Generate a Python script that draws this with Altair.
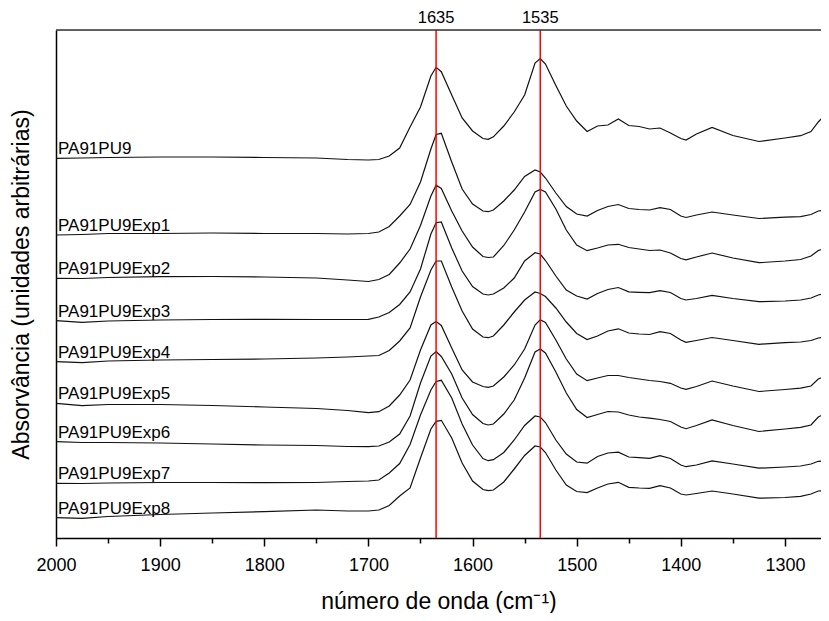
import altair as alt
import pandas as pd

# wavenumber grid (cm-1)
wavenumber = [2000, 1975, 1950, 1900, 1850, 1800, 1750, 1720, 1700, 1690,
              1680, 1670, 1660, 1650, 1640, 1635, 1630, 1620, 1610, 1600,
              1590, 1585, 1580, 1570, 1560, 1550, 1540, 1535, 1530, 1520,
              1510, 1500, 1490, 1480, 1470, 1460, 1450, 1440, 1430, 1420,
              1410, 1400, 1395, 1385, 1370, 1350, 1325, 1300, 1285, 1275,
              1268, 1262, 1255]

# absorbance (arbitrary units, stacked)
pa91pu9 = [379.7, 380, 380.5, 381, 381, 380.5, 380, 378.5, 378, 378.5,
           382, 390, 411, 431, 462, 470.7, 466.3, 443, 420, 407,
           399.5, 398.7, 401.2, 412, 426, 443, 475, 479.5, 474, 452.5,
           432, 417, 406.5, 412, 413, 419, 412.5, 411.5, 409, 410,
           405, 399.5, 398, 404, 410.5, 402.5, 396.5, 400, 402.3, 406.5,
           416, 422.5, 419.5]
exp1 = [303, 303.5, 304.5, 304.5, 305, 304.5, 304.5, 304, 304.5, 306,
        311.5, 322, 333.5, 356, 389, 403.5, 404.7, 376, 349, 334,
        327, 326.3, 328, 337, 348, 361.5, 368, 366, 360, 345,
        331.5, 324, 322, 327.5, 331.5, 333.5, 329.5, 328.5, 328, 330.3,
        328.5, 322, 320.5, 323, 326, 323, 319.5, 320.8, 321.3, 323.5,
        327, 328, 327.3]
exp2 = [259.7, 259.5, 260.5, 261.3, 261.5, 261, 260, 258, 256.5, 258.5,
        263.5, 275, 289, 312.5, 342, 352.8, 349.5, 327, 307, 291,
        281.5, 280.5, 281, 292.5, 308, 326, 346, 348.5, 346, 329,
        308, 293, 287.3, 290, 293, 293.7, 290.5, 289, 287.5, 288,
        285, 279.5, 278.2, 281, 285, 280, 275.3, 277, 278.5, 282,
        287.5, 289.7, 290]
exp3 = [217.3, 215.7, 217, 218, 218.5, 218.7, 218.5, 218.5, 218.7, 221,
        225.5, 233.5, 246, 269, 304, 315.3, 316, 290, 267, 251.5,
        244, 243, 244, 250, 260, 277, 285.3, 284, 277.5, 262,
        248, 242, 239, 244.5, 248.5, 250.5, 246.2, 245.7, 245.3, 247.3,
        245.5, 239.5, 238, 239.5, 242.7, 239.5, 236.3, 237, 238, 240,
        243, 244.5, 244.7]
exp4 = [176.3, 175.3, 177, 178, 178.5, 179, 180, 181, 182, 182.5,
        187.5, 197, 210, 241, 268, 277, 277, 251, 227, 209,
        201, 200.3, 202, 213, 226, 238, 246, 244.5, 241.5, 230,
        216, 204.5, 198.5, 202, 207, 209.2, 205, 204, 203.5, 206.3,
        204.5, 198, 195.7, 197.5, 200.5, 197.5, 193.7, 195.4, 196, 197.5,
        200, 200.7, 200.7]
exp5 = [134.7, 132.3, 133.5, 133.5, 132.5, 131, 129.5, 127.5, 125.3, 126.3,
        132, 143, 158, 188, 213, 216.5, 212.5, 190, 168, 156,
        151.5, 150.7, 152, 161, 173, 189, 213, 218.2, 215.5, 198,
        179, 164, 157.3, 160, 162.5, 162.5, 160.5, 159, 157.5, 156.5,
        154.7, 150, 148.7, 151.5, 157, 152, 146.5, 148.5, 149.8, 152,
        159, 161.5, 162.3]
exp6 = [96.3, 95.5, 95.5, 95, 94, 93, 92.5, 91.5, 91.3, 92,
        96, 104, 122, 155, 182, 186.5, 181.5, 164, 140, 123.5,
        114.5, 113, 114, 124, 138, 160, 186, 189, 185, 166,
        145, 128.5, 120.5, 123.5, 126.5, 126, 123, 121, 119.8, 118.5,
        116.5, 111, 109.3, 112.5, 118, 112.5, 106.5, 109, 110.7, 113,
        121, 124, 124.7]
exp7 = [54.7, 54.5, 55, 55.5, 55.5, 55.3, 55.5, 56.5, 57, 58,
        65, 74.5, 93.5, 123, 148, 156.5, 157.7, 140, 114, 93,
        79.5, 77.3, 78.3, 85.5, 98, 112.5, 122, 121, 115.5, 98,
        84, 76, 74.8, 81.5, 85, 85.8, 81, 80.3, 79.7, 82.3,
        79.5, 73, 71.3, 73, 77.2, 74, 69.8, 71, 72, 74,
        76.7, 77.3, 77.3]
exp8 = [20.3, 19.7, 21.5, 23.5, 25, 26.3, 28, 27, 27, 28,
        32.5, 42, 50, 80, 109, 116.7, 117.7, 100, 75, 57,
        48.5, 47.3, 48, 56, 69, 82.5, 92, 91, 85.5, 68,
        53, 46.5, 45.4, 50, 54, 55.7, 50.6, 50, 49.7, 52.3,
        50, 44, 43, 44.5, 47, 44, 39.8, 40.5, 41.7, 44,
        47, 47.3, 47.3]

sample_names = ["PA91PU9", "PA91PU9Exp1", "PA91PU9Exp2", "PA91PU9Exp3",
                "PA91PU9Exp4", "PA91PU9Exp5", "PA91PU9Exp6", "PA91PU9Exp7",
                "PA91PU9Exp8"]
spectra = [pa91pu9, exp1, exp2, exp3, exp4, exp5, exp6, exp7, exp8]

peak_positions = [1635, 1535]
peak_labels = ["1635", "1535"]

x_domain = [1265.4, 2000]
y_domain = [0, 508]
tick_values = list(range(2000, 1299, -50))

rows = []
for name, vals in zip(sample_names, spectra):
    for wn, v in zip(wavenumber, vals):
        rows.append({"wn": wn, "absorb": v, "amostra": name})
df = pd.DataFrame(rows)

labels_df = pd.DataFrame({"amostra": sample_names,
                          "absorb": [s[0] for s in spectra]})
peaks_df = pd.DataFrame({"wn": peak_positions, "label": peak_labels})
frame_df = pd.DataFrame({"top": [y_domain[1]]})

FONT = "Liberation Sans"

x_scale = alt.Scale(domain=x_domain, reverse=True, nice=False, zero=False)
y_scale = alt.Scale(domain=y_domain, nice=False, zero=False)

x_axis = alt.Axis(
    title="número de onda (cm⁻¹)",
    values=tick_values,
    format="d",
    labelExpr="datum.value % 100 === 0 ? datum.label : ''",
    tickSize={"condition": {"test": "datum.value % 100 === 0", "value": 8}, "value": 5},
    tickColor="black", tickWidth=1.5,
    domainColor="black", domainWidth=1.5,
    labelFont=FONT, labelFontSize=18, labelColor="black",
    labelPadding=10, labelFlush=False, labelOverlap=False,
    titleFont=FONT, titleFontSize=23, titleFontWeight="normal",
    titleColor="black", titlePadding=16, grid=False,
)
y_axis = alt.Axis(
    title="Absorvância (unidades arbitrárias)",
    labels=False, ticks=False, grid=False,
    domainColor="black", domainWidth=1.5,
    titleFont=FONT, titleFontSize=23, titleFontWeight="normal",
    titleColor="black", titlePadding=23,
)

lines = alt.Chart(df).mark_line(color="#111111", strokeWidth=1.2, clip=True).encode(
    x=alt.X("wn:Q", scale=x_scale, axis=x_axis),
    y=alt.Y("absorb:Q", scale=y_scale, axis=y_axis),
    detail="amostra:N",
)

peak_rules = alt.Chart(peaks_df).mark_rule(color="#ff0000", strokeWidth=1.5).encode(
    x=alt.X("wn:Q", scale=x_scale),
    y=alt.value(0),
    y2=alt.value(508),
)

peak_text = alt.Chart(peaks_df).mark_text(
    font=FONT, fontSize=16.5, color="black", baseline="alphabetic", align="center"
).encode(
    x=alt.X("wn:Q", scale=x_scale),
    y=alt.value(-7),
    text="label:N",
)

top_frame = alt.Chart(frame_df).mark_rule(color="#333333", strokeWidth=1.5).encode(
    y=alt.Y("top:Q", scale=y_scale),
    x=alt.value(0),
    x2=alt.value(765),
)

sample_text = alt.Chart(labels_df).mark_text(
    font=FONT, fontSize=17, color="black", baseline="alphabetic", align="left", dy=-4
).encode(
    x=alt.value(2),
    y=alt.Y("absorb:Q", scale=y_scale),
    text="amostra:N",
)

chart = alt.layer(lines, peak_rules, top_frame, peak_text, sample_text).properties(
    width=765, height=508,
    autosize=alt.AutoSizeParams(type="none"),
    padding={"left": 48, "top": 22, "right": 0, "bottom": 75},
).configure_view(stroke=None).configure(background="white")

chart.save("out.html", embed_options={"renderer": "svg", "actions": False})
